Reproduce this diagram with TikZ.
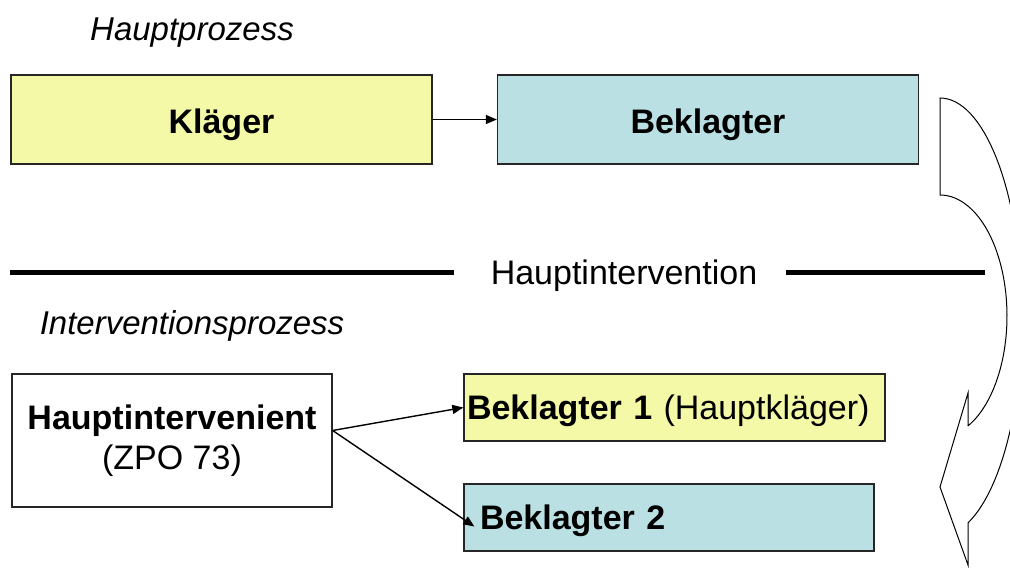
\documentclass[tikz,border=0pt]{standalone}
\usepackage{fontspec}
\setmainfont{Liberation Sans}
\usetikzlibrary{arrows.meta, positioning}
\definecolor{paleyellow}{RGB}{243,249,166}
\definecolor{paleteal}{RGB}{186,224,227}

\begin{document}
\begin{tikzpicture}[x=1pt, y=-1pt,
  every node/.style={font=\fontsize{34}{40}\selectfont},
  party/.style={draw=black!85, line width=1.3pt, inner sep=0pt,
    text height=24pt, text depth=0pt},
  caption/.style={anchor=base, font=\fontsize{33}{40}\selectfont\itshape},
  link/.style={-{Triangle[length=11pt,width=9pt]}, line width=1.4pt},
  divider/.style={line width=5pt}]

\clip (0,0) rectangle (1010,569);

% Hauptprozess
\node[caption] (hp) at (192,41) {Hauptprozess};
\node[party, fill=paleyellow, minimum width=421pt, minimum height=89pt,
  text height=29pt]
  (kl) at (221.5,119.5) {\bfseries Kläger};
\node[party, fill=paleteal, minimum width=421pt, minimum height=89pt,
  text height=29pt]
  (bk) at (708,119.5) {\bfseries Beklagter};
\draw[link] (kl.east) -- (bk.west);

% Trennlinie
\node (hv) at (624,276) {Hauptintervention};
\draw[divider] (10,273) -- (454,273);
\draw[divider] (786,273) -- (985,273);

% Interventionsprozess
\node[caption] (ip) at (192,335) {Interventionsprozess};
\node[party, fill=white, minimum width=320pt, minimum height=133pt,
  align=center, text height=, text depth=]
  (hi) at (172,440.5) {\textbf{Hauptintervenient}\\(ZPO 73)};
\node[party, fill=paleyellow, minimum width=421pt, minimum height=67pt,
  text width=415pt, inner xsep=3pt, align=left]
  (b1) at (674.5,407.5) {\textbf{Beklagter 1} (Hauptkläger)};
\node[party, fill=paleteal, minimum width=410pt, minimum height=67pt,
  text width=378pt, inner xsep=16pt, align=left]
  (b2) at (669,517.5) {\textbf{Beklagter 2}};
\coordinate (b2in) at ([xshift=11pt,yshift=-9pt]b2.west);
\draw[link] ([yshift=10pt]hi.east) -- (b1.west);
\draw[link] ([yshift=10pt]hi.east) -- (b2in);

% gebogener Pfeil
\draw[line width=1pt, fill=white]
  plot[domain=0:160.03, samples=60] ({940+82*sin(\x)},{317-219*cos(\x)})
  -- (968,565) -- (940,487) -- (968,393) -- (968,426)
  -- plot[domain=155.3:0, samples=60] ({940+67*sin(\x)},{316-121*cos(\x)})
  -- cycle;

\end{tikzpicture}
\end{document}
